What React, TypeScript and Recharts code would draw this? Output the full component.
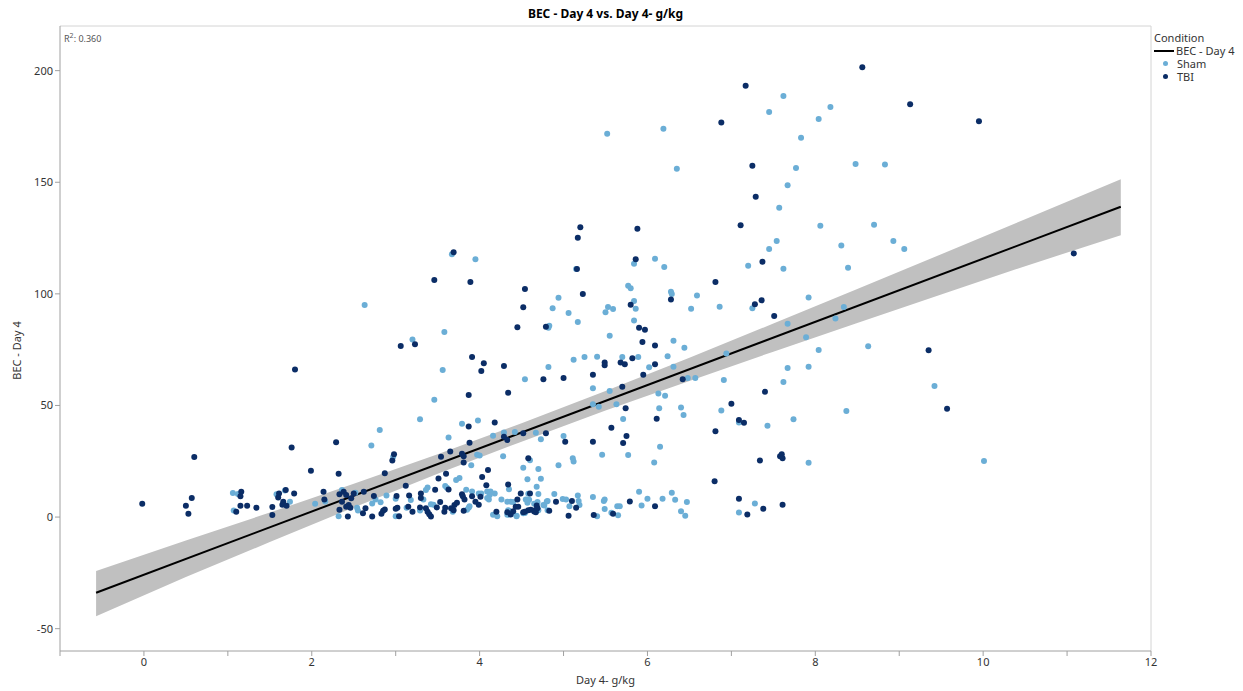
import React from "react";
import { Area, ComposedChart, Line, ReferenceLine, Scatter, XAxis, YAxis } from "recharts";

// Day 4 intake (g/kg) vs BEC on day 4, by condition, with linear fit and its confidence band.
const shamPoints: [number, number][] = [
  [1.06, 10.8], [1.12, 10.3], [1.07, 3.0], [2.71, 32.1], [2.81, 39.0], [2.97, 27.0], [1.68, 11.9], [1.58, 10.2],
  [1.74, 6.9], [2.04, 6.0], [2.16, 7.0], [2.36, 12.1], [2.52, 10.9], [2.32, 0.4], [2.54, 4.2], [2.55, 3.0],
  [2.72, 6.1], [2.76, 7.9], [2.82, 6.6], [2.89, 9.7], [3.0, 8.2], [3.0, 0.4],
  [3.46, 52.6], [3.29, 43.8], [3.79, 41.8], [3.98, 43.3], [3.63, 35.7], [3.97, 27.9], [4.0, 27.6], [3.9, 23.2],
  [4.16, 36.4], [4.29, 37.9], [4.42, 38.1], [4.28, 27.3], [4.73, 34.9], [4.67, 37.8], [4.6, 25.5], [4.52, 22.1],
  [4.7, 21.5], [3.72, 16.6], [3.76, 17.5], [4.57, 17.0], [4.68, 13.6], [4.35, 12.5], [3.36, 12.1], [3.38, 13.3],
  [3.59, 13.9], [3.61, 13.1], [3.84, 12.2], [3.91, 11.5], [3.99, 10.6], [4.02, 10.6], [4.09, 11.5], [4.13, 11.5],
  [4.12, 9.9], [4.11, 7.9], [4.18, 10.6], [3.88, 4.9], [3.68, 2.4], [3.87, 4.2], [3.85, 3.3], [3.42, 5.8],
  [3.45, 5.5], [3.33, 7.9], [3.29, 3.0], [3.13, 4.2], [3.18, 7.6], [4.09, 8.6], [4.26, 7.9], [4.37, 6.9],
  [4.59, 7.8], [4.57, 6.4], [4.69, 6.7], [4.7, 3.1], [4.8, 7.0], [4.34, 3.1], [4.35, 1.2], [4.38, 2.1],
  [4.16, 1.0], [4.21, 0.4], [4.44, 0.4], [4.52, 1.7], [4.77, 5.2], [4.81, 3.1],
  [5.35, 57.7], [5.55, 56.5], [5.35, 50.6], [5.42, 49.4], [5.63, 50.6], [6.13, 55.4], [6.21, 54.3], [6.14, 48.7],
  [6.4, 49.1], [6.43, 45.7], [5.71, 43.9], [6.88, 47.8], [7.09, 42.4], [5.0, 36.3], [6.15, 31.5], [5.77, 27.8],
  [5.46, 27.9], [6.08, 24.5], [5.11, 26.3], [5.12, 24.9], [4.94, 23.2], [4.73, 17.2], [4.58, 10.4], [4.7, 10.3],
  [4.89, 10.3], [5.17, 9.7], [4.99, 8.1], [5.03, 7.9], [5.35, 9.0], [5.49, 7.9], [5.48, 7.2], [5.9, 11.3],
  [6.0, 8.2], [6.18, 8.2], [6.29, 10.9], [6.33, 7.8], [6.47, 6.7], [4.33, 6.9], [4.4, 6.7], [4.55, 7.9],
  [4.65, 6.0], [4.76, 5.4], [4.81, 7.2], [5.07, 4.9], [5.19, 5.4], [5.18, 7.2], [5.64, 4.9], [5.67, 4.9],
  [5.93, 5.2], [6.4, 2.6], [6.45, 0.6], [5.49, 3.6], [5.57, 1.9], [5.65, 0.8], [5.4, 0.4], [4.35, 2.8],
  [4.33, 1.0], [4.44, 0.6], [4.54, 1.8], [7.09, 2.1],
  [6.91, 61.4], [7.62, 60.5], [7.43, 40.9], [7.74, 43.8], [8.37, 47.5], [9.42, 58.7], [7.92, 24.3], [10.01, 25.1],
  [7.28, 6.1],
  [5.84, 113.5], [6.09, 115.7], [6.2, 112.0], [3.67, 117.7], [3.95, 115.5], [5.15, 111.1], [2.63, 95.0], [4.94, 98.3],
  [4.87, 93.6], [5.06, 91.4], [5.17, 87.4], [5.77, 103.6], [5.8, 102.5], [5.84, 96.8], [5.86, 93.3], [5.53, 94.1],
  [5.59, 93.2], [5.5, 91.8], [6.28, 100.9], [6.29, 99.9], [6.59, 99.3], [6.52, 93.3], [5.84, 88.1], [5.55, 81.2],
  [6.31, 79.0], [6.44, 75.9], [4.82, 84.8], [4.83, 85.7], [3.58, 82.9], [3.2, 79.6], [3.56, 65.9], [4.82, 67.2],
  [4.54, 61.7], [5.12, 70.5], [5.25, 71.7], [5.4, 71.8], [5.7, 71.7], [5.89, 71.7], [6.24, 72.1], [6.31, 67.3],
  [6.02, 67.1], [6.48, 62.3], [6.57, 62.3],
  [7.62, 188.6], [7.45, 181.5], [8.18, 183.7], [8.04, 178.3], [5.52, 171.7], [6.19, 174.0], [7.83, 169.9], [6.35, 156.0],
  [7.77, 156.4], [8.48, 158.2], [8.83, 158.0], [7.67, 148.7], [7.57, 138.6], [8.06, 130.5], [8.7, 131.0], [7.54, 123.7],
  [7.45, 120.1], [8.31, 121.7], [8.93, 123.7], [9.06, 120.1],
  [7.2, 112.6], [7.62, 111.2], [8.39, 111.7], [6.86, 94.2], [7.25, 93.6], [7.92, 98.4], [8.34, 94.1], [8.24, 89.0],
  [7.67, 86.6], [7.89, 80.6], [8.04, 74.8], [8.63, 76.5], [6.94, 73.3], [7.67, 66.8], [7.92, 67.3],
];

const tbiPoints: [number, number][] = [
  [-0.02, 6.0], [0.6, 26.9], [0.57, 8.6], [0.5, 5.1], [0.53, 1.5], [1.16, 11.3], [1.15, 9.3], [1.15, 5.1],
  [1.23, 5.1], [1.1, 2.4], [1.34, 4.2], [1.53, 4.5], [1.53, 0.9], [1.76, 31.2], [1.99, 20.7], [2.29, 33.5],
  [2.32, 19.4], [2.87, 19.6], [2.98, 28.1], [2.96, 25.4], [1.61, 10.6], [1.69, 12.1], [1.6, 8.8], [1.66, 6.9],
  [1.65, 5.5], [1.7, 5.1], [1.79, 10.6], [2.14, 11.3], [2.15, 7.9], [2.33, 10.2], [2.38, 11.3], [2.41, 9.9],
  [2.5, 10.6], [2.62, 11.3], [2.47, 8.4], [2.36, 6.9], [2.41, 4.6], [2.44, 5.4], [2.46, 4.2], [2.33, 3.3],
  [2.43, 0.3], [2.64, 4.0], [2.61, 1.7], [2.72, 0.3], [2.74, 9.4], [2.85, 2.8], [2.87, 3.4], [2.83, 1.5],
  [3.01, 9.4], [3.0, 3.7], [3.04, 0.4], [1.8, 66.1],
  [3.12, 14.0], [3.87, 54.7], [4.34, 55.7], [3.87, 40.6], [4.18, 42.4], [3.88, 33.3], [3.65, 29.4], [3.54, 27.0],
  [3.79, 28.4], [3.81, 27.2], [3.81, 24.5], [4.29, 36.0], [4.33, 34.5], [4.52, 37.5], [4.79, 37.5], [4.58, 26.3],
  [4.1, 21.1], [4.03, 17.9], [3.51, 17.3], [3.6, 19.4], [4.34, 14.6], [4.08, 14.3], [3.47, 12.2], [3.63, 12.4],
  [3.79, 10.2], [3.8, 9.3], [4.01, 9.1], [3.82, 7.9], [3.99, 5.5], [3.7, 5.4], [3.73, 6.4], [3.66, 3.9],
  [3.69, 3.1], [3.81, 2.8], [3.59, 4.2], [3.58, 2.4], [3.49, 4.3], [3.53, 6.7], [3.38, 2.4], [3.4, 1.3],
  [3.42, 0.3], [3.3, 10.6], [3.3, 8.6], [3.29, 4.3], [3.36, 4.0], [3.16, 9.7], [3.15, 4.6], [3.2, 2.4],
  [3.02, 4.2], [3.95, 6.9], [3.91, 9.3], [4.45, 7.9], [4.49, 10.6], [4.6, 10.6], [4.68, 5.2], [4.66, 3.1],
  [4.67, 2.2], [4.65, 2.5], [4.43, 4.6], [4.4, 2.6], [4.2, 2.4], [4.54, 2.4], [4.58, 3.1],
  [5.7, 58.4], [5.74, 48.7], [6.11, 44.0], [5.57, 40.0], [7.0, 50.8], [7.09, 43.5], [7.15, 42.3], [6.81, 38.5],
  [5.75, 36.3], [5.71, 33.2], [5.35, 33.7], [5.02, 33.7], [6.8, 16.1], [4.91, 6.9], [5.1, 7.2], [5.15, 4.2],
  [5.06, 0.6], [4.83, 2.8], [4.61, 3.3], [4.69, 3.9], [4.52, 2.2], [4.37, 1.2], [4.33, 2.2], [5.79, 7.0],
  [6.09, 4.9], [5.36, 0.9], [5.59, 1.5], [7.09, 8.2], [7.19, 1.2], [4.46, 4.6],
  [7.4, 56.1], [9.57, 48.5], [7.34, 25.4], [7.58, 27.2], [7.6, 28.2], [7.61, 26.3], [7.38, 3.7], [7.61, 5.5],
  [5.2, 129.8], [5.17, 125.1], [5.88, 129.2], [5.86, 115.5], [3.69, 118.6], [3.46, 106.2], [3.89, 105.3], [5.16, 111.1],
  [4.54, 102.2], [4.52, 94.0], [5.23, 99.9], [5.8, 95.1], [6.28, 97.5], [5.9, 84.8], [5.97, 83.9], [5.94, 78.4],
  [6.09, 76.9], [4.79, 85.3], [4.45, 85.0], [3.06, 76.6], [3.23, 77.4], [3.91, 71.7], [4.05, 68.9], [4.02, 65.4],
  [4.29, 67.7], [4.76, 61.8], [5.0, 62.3], [5.49, 69.3], [5.49, 68.0], [5.68, 69.3], [5.73, 68.5], [5.82, 71.1],
  [6.09, 68.5], [5.35, 63.8], [5.95, 63.8], [6.42, 61.7],
  [8.56, 201.5], [7.17, 193.2], [9.13, 184.9], [9.95, 177.3], [6.88, 176.8], [7.25, 157.4], [7.29, 143.5], [7.11, 130.7],
  [11.08, 118.1], [7.37, 114.4], [6.81, 105.3], [7.28, 95.4], [7.36, 97.1], [7.51, 90.1], [9.35, 74.7],
];

// fitted line end points and confidence band
const fitX = [-0.57, 11.64];
const fitY = [-33.9, 139.0];
const bandX = [-0.57, 0.5, 1.5, 2.5, 3.5, 4.5, 5.5, 6.5, 7.5, 8.5, 9.5, 10.5, 11.64];
const bandLow = [-44.4, -26.9, -11.2, 4.3, 19.4, 33.8, 47.7, 61.0, 74.1, 87.0, 99.7, 112.4, 126.3];
const bandHigh = [-24.2, -10.5, 2.0, 14.9, 28.2, 42.0, 56.5, 71.4, 86.7, 102.2, 117.7, 133.4, 151.4];

const xTicks = [-1, 0, 1, 2, 3, 4, 5, 6, 7, 8, 9, 10, 11, 12];
const yTicks = [-50, 0, 50, 100, 150, 200];

const SHAM = "#6baed6";
const TBI = "#0b2d66";
const AXIS = "#a0a0a0";
const FONT = "'Noto Sans', 'Open Sans', sans-serif";

const shamRows = shamPoints.map(([x, y]) => ({ x, y }));
const tbiRows = tbiPoints.map(([x, y]) => ({ x, y }));
const bandRows = bandX.map((x, i) => ({ x, band: [bandLow[i], bandHigh[i]] }));
const fitRows = fitX.map((x, i) => ({ x, fit: fitY[i] }));

const dot = (color: string) => (props: any) => <circle cx={props.cx} cy={props.cy} r={3} fill={color} />;

export default function App() {
  return (
    <div style={{ position: "absolute", left: 0, top: 0, width: 1243, height: 691, fontFamily: FONT, background: "#fff" }}>
      <div
        style={{
          position: "absolute",
          left: 60,
          width: 1091,
          top: 5,
          textAlign: "center",
          fontWeight: 700,
          fontSize: 12,
          color: "#000",
        }}
      >
        BEC - Day 4 vs. Day 4- g/kg
      </div>
      <ComposedChart width={1243} height={691} data={bandRows} margin={{ top: 26, right: 92, bottom: 0, left: 10 }}>
        <XAxis
          dataKey="x"
          type="number"
          domain={[-1, 12]}
          ticks={xTicks}
          allowDataOverflow
          tickFormatter={(v) => (v % 2 === 0 ? String(v) : "")}
          tick={{ fill: "#333", fontSize: 11, fontFamily: FONT }}
          tickSize={5}
          stroke={AXIS}
          height={40}
          label={{ value: "Day 4- g/kg", position: "insideBottom", offset: 7, fill: "#333", fontSize: 11, fontFamily: FONT }}
        />
        <YAxis
          type="number"
          domain={[-60, 220]}
          ticks={yTicks}
          allowDataOverflow
          tick={{ fill: "#333", fontSize: 11, fontFamily: FONT }}
          tickSize={5}
          stroke={AXIS}
          width={50}
          label={{ value: "BEC - Day 4", angle: -90, position: "insideLeft", offset: 0, dx: 7, dy: 12, fill: "#333", fontSize: 11, fontFamily: FONT, style: { textAnchor: "middle" } }}
        />
        <ReferenceLine x={12} stroke="#d4d4d4" />
        <ReferenceLine y={220} stroke="#d4d4d4" />
        <Area dataKey="band" type="linear" stroke="none" fill="#c0c0c0" fillOpacity={1} isAnimationActive={false} />
        <Line data={fitRows} dataKey="fit" type="linear" stroke="#000" strokeWidth={2} dot={false} isAnimationActive={false} />
        <Scatter data={shamRows} dataKey="y" shape={dot(SHAM)} isAnimationActive={false} />
        <Scatter data={tbiRows} dataKey="y" shape={dot(TBI)} isAnimationActive={false} />
      </ComposedChart>
      <div style={{ position: "absolute", left: 64, top: 31, fontSize: 9, color: "#555" }}>
        R<sup style={{ fontSize: 7 }}>2</sup>: 0.360
      </div>
      <div style={{ position: "absolute", left: 1154, top: 31, fontSize: 11, color: "#333", lineHeight: "13px" }}>
        <div>Condition</div>
        <div style={{ display: "flex", alignItems: "center" }}>
          <span style={{ display: "inline-block", width: 20, height: 2, background: "#000", marginRight: 2 }} />
          BEC - Day 4
        </div>
        <div style={{ display: "flex", alignItems: "center" }}>
          <span style={{ display: "inline-block", width: 5, height: 5, borderRadius: 3, background: SHAM, margin: "0 9px 0 9px" }} />
          Sham
        </div>
        <div style={{ display: "flex", alignItems: "center" }}>
          <span style={{ display: "inline-block", width: 5, height: 5, borderRadius: 3, background: TBI, margin: "0 9px 0 9px" }} />
          TBI
        </div>
      </div>
    </div>
  );
}
